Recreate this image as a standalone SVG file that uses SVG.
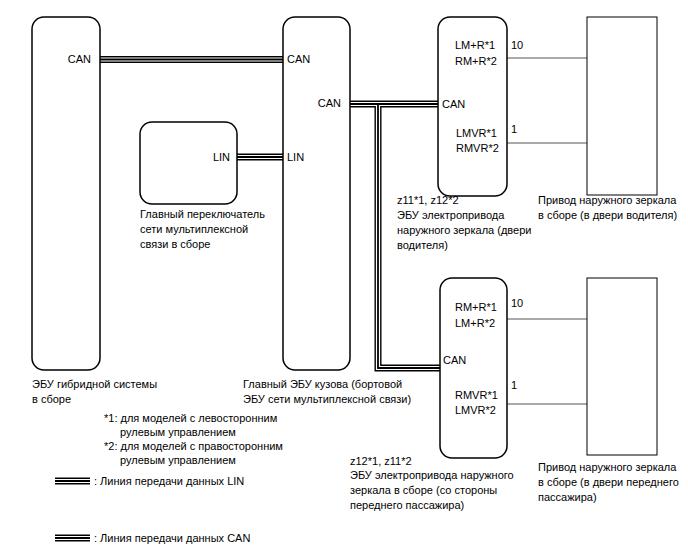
<svg xmlns="http://www.w3.org/2000/svg" width="688" height="560" viewBox="0 0 688 560">
<style>
text{font-family:"Liberation Sans",Arial,sans-serif;font-size:11px;fill:#000}
.box{fill:#fff;stroke:#000;stroke-width:1.5}
.b1{fill:none;stroke:#000;stroke-width:7}
.b2{fill:none;stroke:#fff;stroke-width:4.2}
.b3{fill:none;stroke:#000;stroke-width:1.8}
.w{fill:none;stroke:#555;stroke-width:1}
.r{text-anchor:end}
</style>
<rect width="688" height="560" fill="#fff"/>
<g id="connectors">
<path class="b1" d="M100 59.5H283M237 157H283M350 104H438M378 104V368H440M55 481H90M55 538H90"/>
<path class="b2" d="M100 59.5H283M237 157H283M350 104H438M378 104V368H440M55 481H90M55 538H90"/>
<path class="b3" d="M100 59.5H283M237 157H283M350 104H438M378 104V368H440M55 481H90M55 538H90"/>
<path class="w" d="M507 58H587M507 143H587M507 319H587M507 404H587"/>
<text x="511" y="49">10</text>
<text x="511" y="133">1</text>
<text x="511" y="307">10</text>
<text x="511" y="389">1</text>
</g>
<g id="hybrid-ecu">
<rect class="box" x="32" y="17" width="68" height="353" rx="12"/>
<text class="r" x="91" y="63">CAN</text>
<text x="32" y="388">ЭБУ гибридной системы</text>
<text x="32" y="403">в сборе</text>
</g>
<g id="body-ecu">
<rect class="box" x="283" y="17" width="67" height="353" rx="12"/>
<text x="287" y="63">CAN</text>
<text x="287" y="161">LIN</text>
<text class="r" x="341" y="107">CAN</text>
<text x="243" y="388">Главный ЭБУ кузова (бортовой</text>
<text x="243" y="403">ЭБУ сети мультиплексной связи)</text>
</g>
<g id="switch">
<rect class="box" x="140" y="122" width="97" height="82" rx="12"/>
<text class="r" x="230" y="161">LIN</text>
<text x="140" y="218">Главный переключатель</text>
<text x="140" y="233">сети мультиплексной</text>
<text x="140" y="248">связи в сборе</text>
</g>
<g id="driver-ecu">
<rect class="box" x="438" y="17" width="69" height="179" rx="12"/>
<text x="455" y="49">LM+R*1</text>
<text x="455" y="65">RM+R*2</text>
<text x="442" y="108">CAN</text>
<text x="456" y="137">LMVR*1</text>
<text x="456" y="152">RMVR*2</text>
<text x="397" y="204">z11*1, z12*2</text>
<text x="397" y="219">ЭБУ электропривода</text>
<text x="397" y="234">наружного зеркала (двери</text>
<text x="397" y="249">водителя)</text>
</g>
<g id="driver-mirror">
<rect x="587" y="17" width="70" height="178" fill="#fff" stroke="#000" stroke-width="1"/>
<text x="538" y="204">Привод наружного зеркала</text>
<text x="538" y="219">в сборе (в двери водителя)</text>
</g>
<g id="passenger-ecu">
<rect class="box" x="440" y="278" width="67" height="180" rx="12"/>
<text x="455" y="311">RM+R*1</text>
<text x="455" y="327">LM+R*2</text>
<text x="443" y="364">CAN</text>
<text x="455" y="399">RMVR*1</text>
<text x="455" y="414">LMVR*2</text>
<text x="350" y="465">z12*1, z11*2</text>
<text x="350" y="479">ЭБУ электропривода наружного</text>
<text x="350" y="494">зеркала в сборе (со стороны</text>
<text x="350" y="509">переднего пассажира)</text>
</g>
<g id="passenger-mirror">
<rect x="587" y="278" width="70" height="177" fill="#fff" stroke="#000" stroke-width="1"/>
<text x="538" y="471">Привод наружного зеркала</text>
<text x="538" y="486">в сборе (в двери переднего</text>
<text x="538" y="501">пассажира)</text>
</g>
<g id="notes">
<text x="104" y="422">*1: для моделей с левосторонним</text>
<text x="120" y="436">рулевым управлением</text>
<text x="104" y="450">*2: для моделей с правосторонним</text>
<text x="120" y="464">рулевым управлением</text>
<text x="94" y="485">: Линия передачи данных LIN</text>
<text x="94" y="542">: Линия передачи данных CAN</text>
</g>
</svg>
